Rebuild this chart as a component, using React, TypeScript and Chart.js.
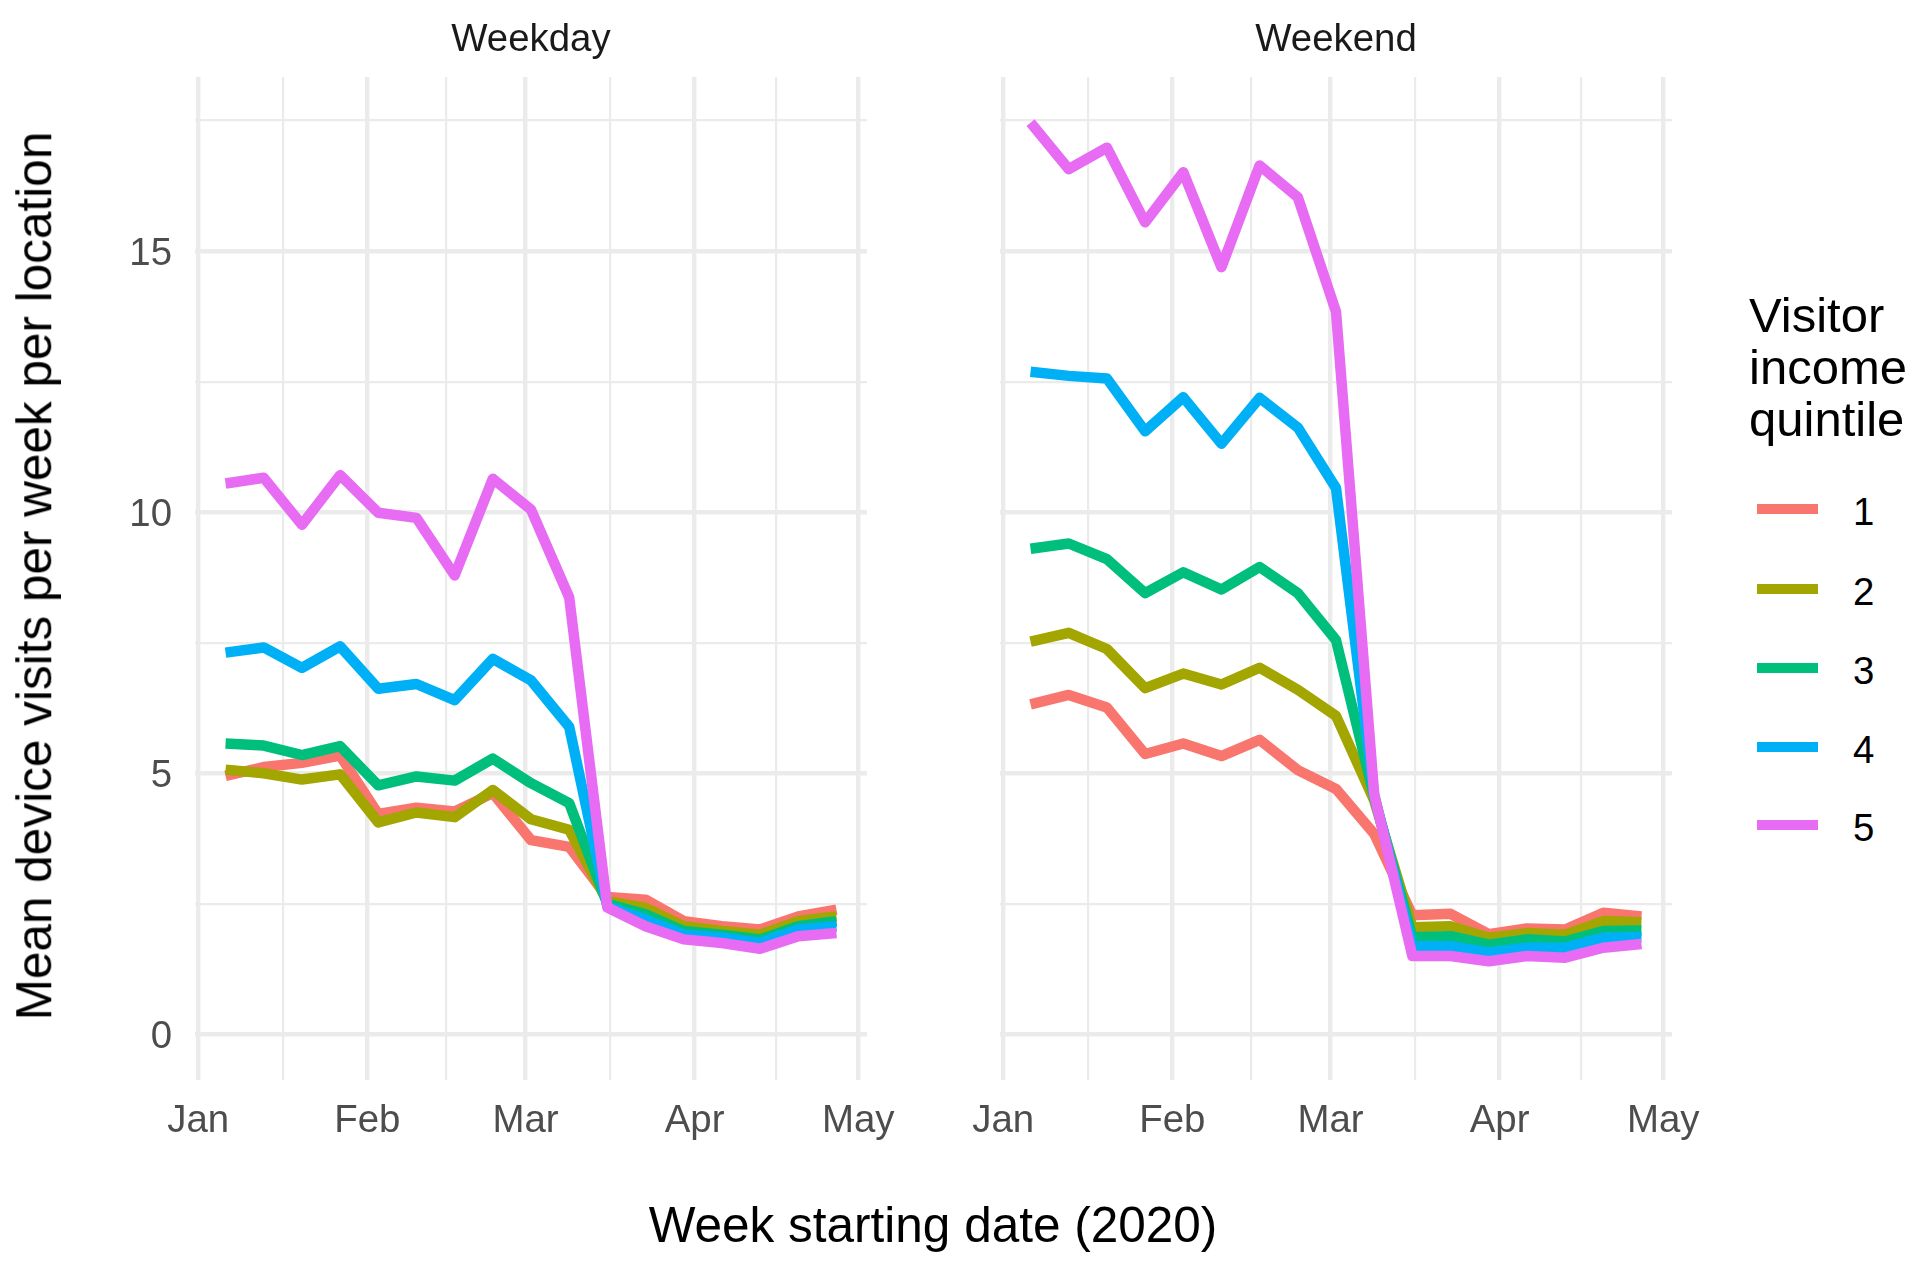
import React, { useEffect, useRef } from "react";
import { Chart, registerables } from "chart.js";

Chart.register(...registerables);

// ---------- data ----------
const weekStarts = [
  "2020-01-06", "2020-01-13", "2020-01-20", "2020-01-27",
  "2020-02-03", "2020-02-10", "2020-02-17", "2020-02-24",
  "2020-03-02", "2020-03-09", "2020-03-16", "2020-03-23",
  "2020-03-30", "2020-04-06", "2020-04-13", "2020-04-20", "2020-04-27",
];

const quintiles = ["1", "2", "3", "4", "5"];
const quintileColors = ["#F8766D", "#A3A500", "#00BF7D", "#00B0F6", "#E76BF3"];

const weekdayQ1 = [4.95, 5.12, 5.2, 5.34, 4.22, 4.34, 4.27, 4.62, 3.72, 3.59, 2.63, 2.58, 2.17, 2.07, 2.01, 2.26, 2.39];
const weekdayQ2 = [5.07, 5.0, 4.88, 4.98, 4.06, 4.25, 4.16, 4.68, 4.12, 3.92, 2.55, 2.42, 2.07, 1.98, 1.91, 2.17, 2.26];
const weekdayQ3 = [5.57, 5.53, 5.35, 5.52, 4.77, 4.94, 4.86, 5.28, 4.81, 4.43, 2.5, 2.3, 1.98, 1.91, 1.82, 2.07, 2.17];
const weekdayQ4 = [7.31, 7.41, 7.02, 7.43, 6.62, 6.71, 6.4, 7.19, 6.78, 5.89, 2.45, 2.2, 1.91, 1.85, 1.75, 2.01, 2.07];
const weekdayQ5 = [10.55, 10.66, 9.76, 10.71, 9.99, 9.89, 8.79, 10.64, 10.05, 8.37, 2.43, 2.07, 1.82, 1.75, 1.64, 1.88, 1.94];

const weekendQ1 = [6.32, 6.5, 6.26, 5.37, 5.57, 5.33, 5.64, 5.06, 4.7, 3.84, 2.28, 2.31, 1.92, 2.03, 2.01, 2.33, 2.26];
const weekendQ2 = [7.52, 7.69, 7.38, 6.63, 6.91, 6.7, 7.02, 6.6, 6.1, 4.48, 2.05, 2.07, 1.85, 1.94, 1.91, 2.17, 2.15];
const weekendQ3 = [9.3, 9.4, 9.1, 8.45, 8.85, 8.52, 8.95, 8.45, 7.55, 4.55, 1.86, 1.88, 1.72, 1.82, 1.78, 1.98, 1.99];
const weekendQ4 = [12.69, 12.61, 12.56, 11.55, 12.2, 11.31, 12.19, 11.62, 10.46, 4.58, 1.69, 1.69, 1.57, 1.66, 1.66, 1.85, 1.86];
const weekendQ5 = [17.46, 16.57, 16.98, 15.55, 16.51, 14.69, 16.64, 16.03, 13.84, 4.6, 1.5, 1.5, 1.4, 1.5, 1.47, 1.66, 1.73];

const monthTickDates = ["2020-01-01", "2020-02-01", "2020-03-01", "2020-04-01", "2020-05-01"];
const monthTickLabels = ["Jan", "Feb", "Mar", "Apr", "May"];
const yMajorTicks = [0, 5, 10, 15];
const yMinorTicks = [2.5, 7.5, 12.5, 17.5];

const panelTitles = ["Weekday", "Weekend"];
const xAxisTitle = "Week starting date (2020)";
const yAxisTitle = "Mean device visits per week per location";
const legendTitleLines = ["Visitor", "income", "quintile"];

// ---------- helpers ----------
const FONT = "'Liberation Sans', Arial, Helvetica, sans-serif";
const DAY = 86400000;
const dayOffset = (s: string) => (Date.parse(s) - Date.parse("2020-01-01")) / DAY;

const xs = weekStarts.map(dayOffset);
const xMajor = monthTickDates.map(dayOffset);
const xMinor = xMajor.slice(1).map((v, i) => (v + xMajor[i]) / 2);
const xAllTicks = [...xMajor, ...xMinor].sort((a, b) => a - b);
const yAllTicks = [...yMajorTicks, ...yMinorTicks].sort((a, b) => a - b);

const allSeries = [weekdayQ1, weekdayQ2, weekdayQ3, weekdayQ4, weekdayQ5, weekendQ1, weekendQ2, weekendQ3, weekendQ4, weekendQ5];
const yDataMax = Math.max(...allSeries.flat());
const yLo = 0 - 0.05 * yDataMax;
const yHi = yDataMax + 0.05 * yDataMax;
const xSpan = Math.max(...xs) - Math.min(...xs);
const xLo = Math.min(...xs) - 0.05 * xSpan;
const xHi = Math.max(...xs) + 0.05 * xSpan;

// layout constants (pixels)
const PLOT_TOP = 77;
const PLOT_BOTTOM = 1080;
const PAGE_H = 1271;

function makeConfig(series: number[][], showYLabels: boolean, yAxisWidth: number, padRight: number): any {
  return {
    type: "line",
    data: {
      datasets: series.map((vals, i) => ({
        label: quintiles[i],
        data: vals.map((v, j) => ({ x: xs[j], y: v })),
        borderColor: quintileColors[i],
        backgroundColor: quintileColors[i],
        borderWidth: 10.5,
        pointRadius: 0,
        tension: 0,
        fill: false,
        borderJoinStyle: "round",
        borderCapStyle: "butt",
        order: series.length - 1 - i,
      })),
    },
    options: {
      responsive: false,
      animation: false,
      events: [],
      layout: {
        autoPadding: false,
        padding: { left: 0, top: PLOT_TOP, right: padRight, bottom: 0 },
      },
      plugins: {
        legend: { display: false },
        tooltip: { enabled: false },
        title: { display: false },
      },
      scales: {
        x: {
          type: "linear",
          min: xLo,
          max: xHi,
          afterBuildTicks: (s: any) => {
            s.ticks = xAllTicks.map((v) => ({ value: v }));
          },
          afterFit: (s: any) => {
            s.height = PAGE_H - PLOT_BOTTOM;
          },
          ticks: {
            autoSkip: false,
            maxRotation: 0,
            minRotation: 0,
            padding: 18,
            color: "#4D4D4D",
            font: { family: FONT, size: 38.4 },
            callback: (v: number) => {
              const k = xMajor.indexOf(v);
              return k >= 0 ? monthTickLabels[k] : "";
            },
          },
          grid: {
            color: "#EBEBEB",
            drawTicks: false,
            lineWidth: (c: any) => (c.tick && xMajor.includes(c.tick.value) ? 4.4 : 2.2),
          },
          border: { display: false },
        },
        y: {
          type: "linear",
          min: yLo,
          max: yHi,
          afterBuildTicks: (s: any) => {
            s.ticks = yAllTicks.map((v) => ({ value: v }));
          },
          afterFit: (s: any) => {
            s.width = yAxisWidth;
          },
          ticks: {
            display: showYLabels,
            autoSkip: false,
            padding: 23,
            labelOffset: 3,
            color: "#4D4D4D",
            font: { family: FONT, size: 38.4 },
            callback: (v: number) => (yMajorTicks.includes(v) ? String(v) : ""),
          },
          grid: {
            color: "#EBEBEB",
            drawTicks: false,
            lineWidth: (c: any) => (c.tick && yMajorTicks.includes(c.tick.value) ? 4.4 : 2.2),
          },
          border: { display: false },
        },
      },
    },
  };
}

function Panel(props: { series: number[][]; left: number; width: number; yAxisWidth: number; padRight: number; showY: boolean }) {
  const ref = useRef<HTMLCanvasElement | null>(null);
  useEffect(() => {
    if (!ref.current) return;
    const chart = new Chart(ref.current, makeConfig(props.series, props.showY, props.yAxisWidth, props.padRight));
    return () => chart.destroy();
  }, []);
  return (
    <canvas
      ref={ref}
      width={props.width}
      height={PAGE_H}
      style={{ position: "absolute", left: props.left, top: 0, width: props.width, height: PAGE_H }}
    />
  );
}

const centered = (x: number, y: number, size: number, color: string, rotate = false): React.CSSProperties => ({
  position: "absolute",
  left: x,
  top: y,
  transform: rotate ? "translate(-50%, -50%) rotate(-90deg)" : "translate(-50%, -50%)",
  fontSize: size,
  color,
  lineHeight: 1,
  whiteSpace: "nowrap",
  fontFamily: FONT,
});

export default function App() {
  const legendKeyY = [509, 589, 668, 747, 825];
  return (
    <div
      style={{
        position: "absolute",
        left: 0,
        top: 0,
        width: 1920,
        height: PAGE_H,
        background: "#FFFFFF",
        overflow: "hidden",
        fontFamily: FONT,
      }}
    >
      {/* Weekday panel: plot area x 195..867 */}
      <Panel series={[weekdayQ1, weekdayQ2, weekdayQ3, weekdayQ4, weekdayQ5]} left={0} width={917} yAxisWidth={195} padRight={50} showY={true} />
      {/* Weekend panel: plot area x 1000..1672 */}
      <Panel series={[weekendQ1, weekendQ2, weekendQ3, weekendQ4, weekendQ5]} left={940} width={782} yAxisWidth={60} padRight={50} showY={false} />

      <div style={centered(531, 38, 38.4, "#1A1A1A")}>{panelTitles[0]}</div>
      <div style={centered(1336, 38, 38.4, "#1A1A1A")}>{panelTitles[1]}</div>

      <div style={centered(933, 1225, 49.5, "#000000")}>{xAxisTitle}</div>
      <div style={centered(34, 576, 49.5, "#000000", true)}>{yAxisTitle}</div>

      <div
        style={{
          position: "absolute",
          left: 1749,
          top: 290,
          fontSize: 49,
          lineHeight: "51.8px",
          color: "#000000",
          fontFamily: FONT,
          whiteSpace: "nowrap",
        }}
      >
        {legendTitleLines.map((t) => (
          <div key={t}>{t}</div>
        ))}
      </div>

      {quintiles.map((q, i) => (
        <React.Fragment key={q}>
          <div
            style={{
              position: "absolute",
              left: 1757,
              top: legendKeyY[i] - 5,
              width: 61,
              height: 10,
              background: quintileColors[i],
            }}
          />
          <div
            style={{
              position: "absolute",
              left: 1853,
              top: legendKeyY[i] + 2.5,
              transform: "translateY(-50%)",
              fontSize: 38.4,
              lineHeight: 1,
              color: "#000000",
              fontFamily: FONT,
            }}
          >
            {q}
          </div>
        </React.Fragment>
      ))}
    </div>
  );
}
